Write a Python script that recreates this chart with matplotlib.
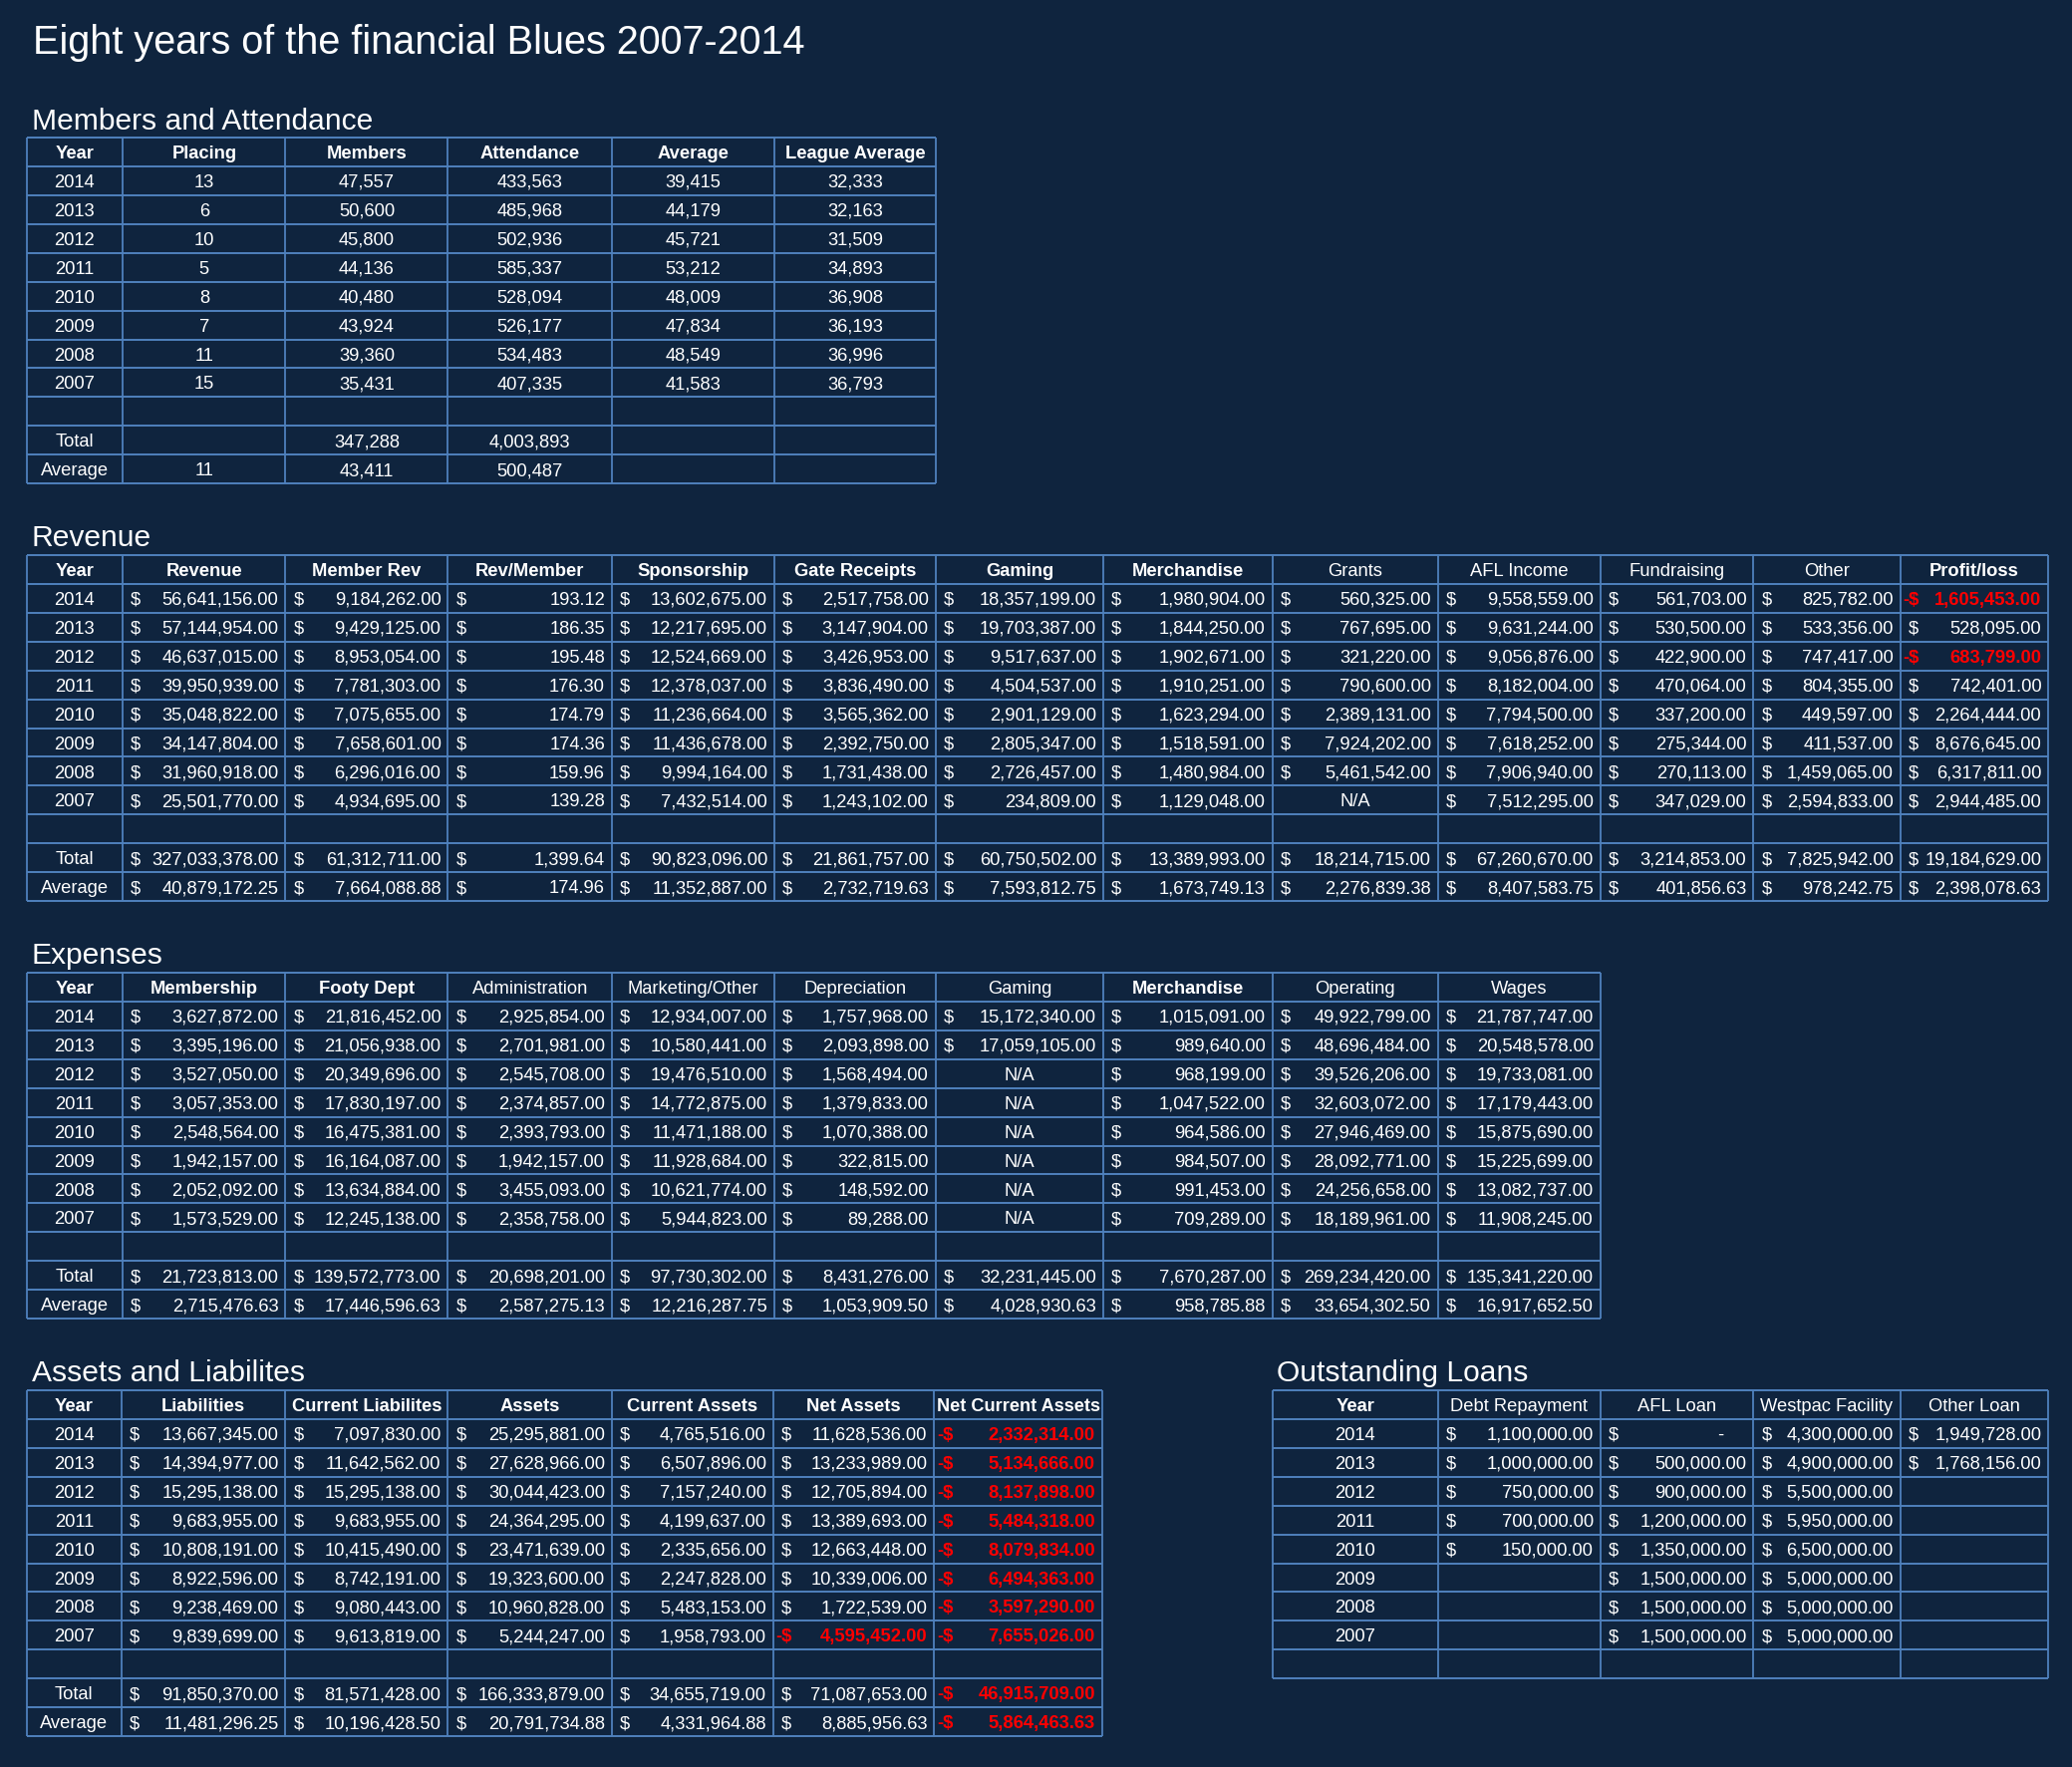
import matplotlib
matplotlib.use('Agg')
import matplotlib.pyplot as plt
from matplotlib import font_manager

# colours of the spreadsheet theme
BG = '#0f243e'
GRID = '#4f81bd'
RED = '#ff0000'

# layout was measured on the 1568 px wide copy, scale up to 2079
S = 2079 / 1568
RH = 21.83 * S

years = [2014, 2013, 2012, 2011, 2010, 2009, 2008, 2007]

# Members and Attendance
placing = [13, 6, 10, 5, 8, 7, 11, 15]
members = [47557, 50600, 45800, 44136, 40480, 43924, 39360, 35431]
attendance = [433563, 485968, 502936, 585337, 528094, 526177, 534483, 407335]
avg_attendance = [39415, 44179, 45721, 53212, 48009, 47834, 48549, 41583]
league_average = [32333, 32163, 31509, 34893, 36908, 36193, 36996, 36793]
members_total, attendance_total = 347288, 4003893
placing_avg, members_avg, attendance_avg = 11, 43411, 500487

# Revenue
revenue = [56641156, 57144954, 46637015, 39950939, 35048822, 34147804, 31960918, 25501770]
member_rev = [9184262, 9429125, 8953054, 7781303, 7075655, 7658601, 6296016, 4934695]
rev_per_member = [193.12, 186.35, 195.48, 176.30, 174.79, 174.36, 159.96, 139.28]
sponsorship = [13602675, 12217695, 12524669, 12378037, 11236664, 11436678, 9994164, 7432514]
gate_receipts = [2517758, 3147904, 3426953, 3836490, 3565362, 2392750, 1731438, 1243102]
gaming_rev = [18357199, 19703387, 9517637, 4504537, 2901129, 2805347, 2726457, 234809]
merch_rev = [1980904, 1844250, 1902671, 1910251, 1623294, 1518591, 1480984, 1129048]
grants = [560325, 767695, 321220, 790600, 2389131, 7924202, 5461542, 'N/A']
afl_income = [9558559, 9631244, 9056876, 8182004, 7794500, 7618252, 7906940, 7512295]
fundraising = [561703, 530500, 422900, 470064, 337200, 275344, 270113, 347029]
other_rev = [825782, 533356, 747417, 804355, 449597, 411537, 1459065, 2594833]
profit_loss = [-1605453, 528095, -683799, 742401, 2264444, 8676645, 6317811, 2944485]
revenue_totals = [327033378.00, 61312711.00, 1399.64, 90823096.00, 21861757.00, 60750502.00,
                  13389993.00, 18214715.00, 67260670.00, 3214853.00, 7825942.00, 19184629.00]
revenue_avgs = [40879172.25, 7664088.88, 174.96, 11352887.00, 2732719.63, 7593812.75,
                1673749.13, 2276839.38, 8407583.75, 401856.63, 978242.75, 2398078.63]

# Expenses
membership_exp = [3627872, 3395196, 3527050, 3057353, 2548564, 1942157, 2052092, 1573529]
footy_dept = [21816452, 21056938, 20349696, 17830197, 16475381, 16164087, 13634884, 12245138]
administration = [2925854, 2701981, 2545708, 2374857, 2393793, 1942157, 3455093, 2358758]
marketing = [12934007, 10580441, 19476510, 14772875, 11471188, 11928684, 10621774, 5944823]
depreciation = [1757968, 2093898, 1568494, 1379833, 1070388, 322815, 148592, 89288]
gaming_exp = [15172340, 17059105, 'N/A', 'N/A', 'N/A', 'N/A', 'N/A', 'N/A']
merch_exp = [1015091, 989640, 968199, 1047522, 964586, 984507, 991453, 709289]
operating = [49922799, 48696484, 39526206, 32603072, 27946469, 28092771, 24256658, 18189961]
wages = [21787747, 20548578, 19733081, 17179443, 15875690, 15225699, 13082737, 11908245]
expense_totals = [21723813.00, 139572773.00, 20698201.00, 97730302.00, 8431276.00,
                  32231445.00, 7670287.00, 269234420.00, 135341220.00]
expense_avgs = [2715476.63, 17446596.63, 2587275.13, 12216287.75, 1053909.50,
                4028930.63, 958785.88, 33654302.50, 16917652.50]

# Assets and Liabilites
liabilities = [13667345, 14394977, 15295138, 9683955, 10808191, 8922596, 9238469, 9839699]
current_liab = [7097830, 11642562, 15295138, 9683955, 10415490, 8742191, 9080443, 9613819]
assets = [25295881, 27628966, 30044423, 24364295, 23471639, 19323600, 10960828, 5244247]
current_assets = [4765516, 6507896, 7157240, 4199637, 2335656, 2247828, 5483153, 1958793]
net_assets = [11628536, 13233989, 12705894, 13389693, 12663448, 10339006, 1722539, -4595452]
net_current = [-2332314, -5134666, -8137898, -5484318, -8079834, -6494363, -3597290, -7655026]
asset_totals = [91850370.00, 81571428.00, 166333879.00, 34655719.00, 71087653.00, -46915709.00]
asset_avgs = [11481296.25, 10196428.50, 20791734.88, 4331964.88, 8885956.63, -5864463.63]

# Outstanding Loans
debt_repayment = [1100000, 1000000, 750000, 700000, 150000, None, None, None]
afl_loan = [0, 500000, 900000, 1200000, 1350000, 1500000, 1500000, 1500000]
westpac = [4300000, 4900000, 5500000, 5950000, 6500000, 5000000, 5000000, 5000000]
other_loan = [1949728, 1768156, None, None, None, None, None, None]

names = {f.name for f in font_manager.fontManager.ttflist}
FONT = 'Liberation Sans' if 'Liberation Sans' in names else 'DejaVu Sans'
plt.rcParams['font.family'] = [FONT, 'DejaVu Sans']
FS = 13.2
# baseline sits half a cap height below the row middle
DY = 0.716 * FS * 100 / 72 / 2

fig = plt.figure(figsize=(20.79, 17.73), dpi=100, facecolor=BG)
ax = fig.add_axes([0, 0, 1, 1])
ax.set_xlim(0, 2079)
ax.set_ylim(1773, 0)
ax.axis('off')
renderer = fig.canvas.get_renderer()


def fit(t, width):
    # shrink a label that would spill out of its cell
    w = t.get_window_extent(renderer).width
    if w > width:
        t.set_fontsize(t.get_fontsize() * width / w)


def money(v):
    if v is None:
        return None
    if v == 'N/A':
        return ('c', 'N/A')
    return ('$', v)


def put(x, yc, s, ha, **kw):
    return ax.text(x, yc + DY, s, ha=ha, va='baseline', fontsize=FS, **kw)


def draw_cell(x0, x1, yc, cell):
    if cell is None:
        return
    kind, v = cell
    if kind == 'c':
        put((x0 + x1) / 2, yc, v, 'center', color='white')
        return
    if v == 0:
        put(x0 + 8, yc, '$', 'left', color='white')
        put(x1 - 30, yc, '-', 'right', color='white')
        return
    neg = v < 0
    col = RED if neg else 'white'
    wt = 'bold' if neg else 'normal'
    put(x0 + (3 if neg else 8), yc, '-$' if neg else '$', 'left', color=col, fontweight=wt)
    t = put(x1 - 7, yc, f"{abs(v):,.2f}", 'right', color=col, fontweight=wt)
    fit(t, x1 - x0 - 30)


def draw_table(edges, top, headers, bold, body):
    xs = [e * S for e in edges]
    y0 = top * S
    n = len(body) + 1
    for k in range(n + 1):
        ax.hlines(y0 + k * RH, xs[0], xs[-1], color=GRID, lw=1.4)
    ax.vlines(xs, y0, y0 + n * RH, color=GRID, lw=1.3)
    for j, h in enumerate(headers):
        t = put((xs[j] + xs[j + 1]) / 2, y0 + RH / 2, h, 'center', color='white',
                fontweight='bold' if bold[j] else 'normal')
        fit(t, xs[j + 1] - xs[j] - 4)
    for i, row in enumerate(body):
        yc = y0 + (i + 1.5) * RH
        for j, cell in enumerate(row):
            draw_cell(xs[j], xs[j + 1], yc, cell)


def money_body(cols, totals, avgs):
    body = []
    for i, y in enumerate(years):
        body.append([('c', str(y))] + [money(c[i]) for c in cols])
    body.append([None] * (len(cols) + 1))
    body.append([('c', 'Total')] + [('$', v) for v in totals])
    body.append([('c', 'Average')] + [('$', v) for v in avgs])
    return body


# titles
ax.text(25 * S, 41 * S, 'Eight years of the financial Blues 2007-2014', color='white',
        fontsize=28.5, ha='left', va='baseline')
for label, x, y in [('Members and Attendance', 24, 98), ('Revenue', 24, 413),
                    ('Expenses', 24, 729), ('Assets and Liabilites', 24, 1045),
                    ('Outstanding Loans', 966, 1045)]:
    ax.text(x * S, y * S, label, color='white', fontsize=21.6, ha='left', va='baseline')

# Members and Attendance
body = []
for i, y in enumerate(years):
    body.append([('c', str(y)), ('c', str(placing[i])), ('c', f"{members[i]:,}"),
                 ('c', f"{attendance[i]:,}"), ('c', f"{avg_attendance[i]:,}"),
                 ('c', f"{league_average[i]:,}")])
body.append([None] * 6)
body.append([('c', 'Total'), None, ('c', f"{members_total:,}"), ('c', f"{attendance_total:,}"), None, None])
body.append([('c', 'Average'), ('c', str(placing_avg)), ('c', f"{members_avg:,}"),
             ('c', f"{attendance_avg:,}"), None, None])
draw_table([20, 93, 216, 339, 463, 586, 708], 104,
           ['Year', 'Placing', 'Members', 'Attendance', 'Average', 'League Average'],
           [True] * 6, body)

# Revenue
rev_cols = [revenue, member_rev, rev_per_member, sponsorship, gate_receipts, gaming_rev,
            merch_rev, grants, afl_income, fundraising, other_rev, profit_loss]
draw_table([20, 93, 216, 339, 463, 586, 708, 835, 963, 1088, 1211, 1327, 1438, 1550], 420,
           ['Year', 'Revenue', 'Member Rev', 'Rev/Member', 'Sponsorship', 'Gate Receipts',
            'Gaming', 'Merchandise', 'Grants', 'AFL Income', 'Fundraising', 'Other', 'Profit/loss'],
           [True] * 8 + [False] * 4 + [True],
           money_body(rev_cols, revenue_totals, revenue_avgs))

# Expenses
exp_cols = [membership_exp, footy_dept, administration, marketing, depreciation, gaming_exp,
            merch_exp, operating, wages]
draw_table([20, 93, 216, 339, 463, 586, 708, 835, 963, 1088, 1211], 736,
           ['Year', 'Membership', 'Footy Dept', 'Administration', 'Marketing/Other',
            'Depreciation', 'Gaming', 'Merchandise', 'Operating', 'Wages'],
           [True, True, True, False, False, False, False, True, False, False],
           money_body(exp_cols, expense_totals, expense_avgs))

# Assets and Liabilites
asset_cols = [liabilities, current_liab, assets, current_assets, net_assets, net_current]
draw_table([20, 92, 216, 339, 463, 585, 707, 834], 1052,
           ['Year', 'Liabilities', 'Current Liabilites', 'Assets', 'Current Assets',
            'Net Assets', 'Net Current Assets'],
           [True] * 7, money_body(asset_cols, asset_totals, asset_avgs))

# Outstanding Loans
body = []
for i, y in enumerate(years):
    body.append([('c', str(y)), money(debt_repayment[i]), money(afl_loan[i]),
                 money(westpac[i]), money(other_loan[i])])
body.append([None] * 5)
draw_table([963, 1088, 1211, 1327, 1438, 1550], 1052,
           ['Year', 'Debt Repayment', 'AFL Loan', 'Westpac Facility', 'Other Loan'],
           [True, False, False, False, False], body)

fig.savefig('out.png', dpi=100, facecolor=BG)
